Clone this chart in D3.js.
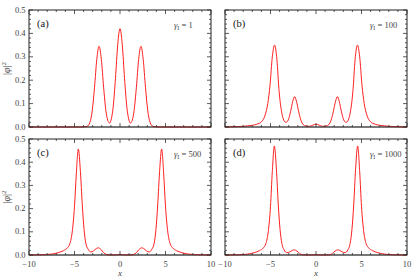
<!DOCTYPE html>
<html><head><meta charset="utf-8">
<script src="https://cdn.jsdelivr.net/npm/d3@7"></script>
<style>body{margin:0;background:#fff}svg{display:block}</style>
</head><body>
<svg id="c" width="415" height="277"></svg>
<script>
// ---- data ----
const xTicks = [-10, -5, 0, 5, 10];
const yTicks = [0, 0.1, 0.2, 0.3, 0.4, 0.5];
const panelLabels = ["(a)", "(b)", "(c)", "(d)"];
const gammaValues = ["1", "100", "500", "1000"];

const xA = [-10,-5,-4,-3.6,-3.3,-3.05,-2.8,-2.55,-2.3,-2.05,-1.8,-1.55,-1.35,-1.15,-0.95,-0.75,-0.5,-0.25,0,0.25,0.5,0.75,0.95,1.15,1.35,1.55,1.8,2.05,2.3,2.55,2.8,3.05,3.3,3.6,4,5,10];
const yA = [0,0,0.0003,0.003,0.02,0.07,0.17,0.289,0.345,0.289,0.17,0.07,0.029,0.017,0.035,0.086,0.207,0.352,0.42,0.352,0.207,0.086,0.035,0.017,0.029,0.07,0.17,0.289,0.345,0.289,0.17,0.07,0.02,0.003,0.0003,0,0];

const xB = [-10,-8.5,-7.5,-6.5,-6,-5.6,-5.3,-5.05,-4.8,-4.55,-4.3,-4.05,-3.8,-3.55,-3.3,-3.05,-2.8,-2.55,-2.35,-2.15,-1.9,-1.65,-1.4,-1.1,-0.7,-0.35,0,0.35,0.7,1.1,1.4,1.65,1.9,2.15,2.35,2.55,2.8,3.05,3.3,3.55,3.8,4.05,4.3,4.55,4.8,5.05,5.3,5.6,6,6.5,7.5,8.5,10];
const yB = [0,0.002,0.005,0.012,0.022,0.05,0.1,0.18,0.3,0.35,0.29,0.15,0.07,0.03,0.02,0.03,0.065,0.11,0.13,0.11,0.065,0.028,0.01,0.004,0.003,0.008,0.012,0.008,0.003,0.004,0.01,0.028,0.065,0.11,0.13,0.11,0.065,0.03,0.02,0.03,0.07,0.15,0.29,0.35,0.3,0.18,0.1,0.05,0.022,0.012,0.005,0.002,0];

const xC = [-10,-8.5,-7.5,-6.8,-6.2,-5.8,-5.5,-5.25,-5,-4.8,-4.58,-4.35,-4.15,-3.95,-3.75,-3.5,-3.2,-2.9,-2.6,-2.38,-2.1,-1.8,-1.5,-1,-0.5,0,0.5,1,1.5,1.8,2.1,2.38,2.6,2.9,3.2,3.5,3.75,3.95,4.15,4.35,4.58,4.8,5,5.25,5.5,5.8,6.2,6.8,7.5,8.5,10];
const yC = [0,0.001,0.004,0.01,0.019,0.03,0.05,0.1,0.21,0.35,0.457,0.36,0.22,0.11,0.05,0.025,0.013,0.018,0.028,0.031,0.024,0.01,0.002,0,0.0005,0.002,0.0005,0,0.002,0.01,0.024,0.031,0.028,0.018,0.013,0.025,0.05,0.11,0.22,0.36,0.457,0.35,0.21,0.1,0.05,0.03,0.019,0.01,0.004,0.001,0];

const xD = xC;
const yD = [0,0.001,0.004,0.01,0.019,0.03,0.05,0.1,0.21,0.36,0.47,0.37,0.22,0.11,0.05,0.022,0.01,0.013,0.02,0.022,0.017,0.007,0.001,0,0.0003,0.001,0.0003,0,0.001,0.007,0.017,0.022,0.02,0.013,0.01,0.022,0.05,0.11,0.22,0.37,0.47,0.36,0.21,0.1,0.05,0.03,0.019,0.01,0.004,0.001,0];

const seriesX = [xA, xB, xC, xD];
const seriesY = [yA, yB, yC, yD];

// ---- layout ----
const cols = [[29, 211], [225, 407]];
const rows = [[10, 127], [139, 255]];
const svg = d3.select("#c");
const lserif = "'Liberation Serif', 'DejaVu Serif', serif";
const frameColor = "#222";
const labelColor = "#444";

for (let i = 0; i < 4; i++) {
  const c = i % 2, r = Math.floor(i / 2);
  const [x0, x1] = cols[c], [y0, y1] = rows[r];
  const xs = d3.scaleLinear().domain([-10, 10]).range([x0, x1]);
  const ys = d3.scaleLinear().domain([0, 0.5]).range([y1, y0]);
  const g = svg.append("g");

  // zero line
  g.append("line").attr("x1", x0).attr("x2", x1).attr("y1", ys(0)).attr("y2", ys(0))
    .attr("stroke", "#999").attr("stroke-width", 1);

  // curve
  const pts = seriesX[i].map((x, k) => [x, seriesY[i][k]]);
  g.append("path").datum(pts)
    .attr("fill", "none").attr("stroke", "#ff2020").attr("stroke-width", 1)
    .attr("d", d3.line().x(d => xs(d[0])).y(d => ys(d[1])).curve(d3.curveMonotoneX));

  // ticks (inward, all sides)
  const xMinor = d3.range(-10, 10.01, 1);
  const yMinor = d3.range(0, 0.501, 0.02);
  const tk = g.append("g").attr("stroke", "#333").attr("stroke-width", 0.8);
  xMinor.forEach(v => {
    const major = Math.round(v) % 5 === 0;
    const L = major ? 4 : 2;
    tk.append("line").attr("x1", xs(v)).attr("x2", xs(v)).attr("y1", y1).attr("y2", y1 - L);
    tk.append("line").attr("x1", xs(v)).attr("x2", xs(v)).attr("y1", y0).attr("y2", y0 + L);
  });
  yMinor.forEach((v, k) => {
    const major = k % 5 === 0;
    const L = major ? 4 : 2;
    tk.append("line").attr("y1", ys(v)).attr("y2", ys(v)).attr("x1", x0).attr("x2", x0 + L);
    tk.append("line").attr("y1", ys(v)).attr("y2", ys(v)).attr("x1", x1).attr("x2", x1 - L);
  });

  // frame
  g.append("rect").attr("x", x0).attr("y", y0).attr("width", x1 - x0).attr("height", y1 - y0)
    .attr("fill", "none").attr("stroke", frameColor).attr("stroke-width", 1);

  // y tick labels
  if (c === 0) {
    yTicks.forEach(v => {
      g.append("text").attr("x", x0 - 3.5).attr("y", ys(v) + 2.5)
        .attr("text-anchor", "end").attr("font-family", lserif).attr("font-size", 8.5)
        .attr("fill", labelColor).text(v.toFixed(1));
    });
    g.append("text").attr("transform", `translate(10,${(y0 + y1) / 2}) rotate(-90)`)
      .attr("text-anchor", "middle").attr("font-family", lserif).attr("font-size", 10)
      .attr("fill", labelColor)
      .html('|<tspan font-style="italic">φ</tspan>|<tspan dy="-4" font-size="7">2</tspan>');
  }
  // x tick labels
  if (r === 1) {
    xTicks.forEach(v => {
      g.append("text").attr("x", xs(v)).attr("y", y1 + 11.5)
        .attr("text-anchor", "middle").attr("font-family", lserif).attr("font-size", 8.5)
        .attr("fill", labelColor).text(v < 0 ? "\u2212" + Math.abs(v) : String(v));
    });
    g.append("text").attr("x", (x0 + x1) / 2).attr("y", y1 + 21)
      .attr("text-anchor", "middle").attr("font-family", lserif).attr("font-size", 9)
      .attr("font-style", "italic").attr("fill", labelColor).text("x");
  }

  // panel label
  g.append("text").attr("x", x0 + 8).attr("y", y0 + 17)
    .attr("font-family", lserif).attr("font-size", 10.5).attr("fill", "#111")
    .text(panelLabels[i]);
  // gamma label
  g.append("text").attr("x", x0 + 145).attr("y", y0 + 17.5)
    .attr("font-family", lserif).attr("font-size", 8.5).attr("fill", labelColor)
    .html('<tspan font-style="italic">γ</tspan><tspan dy="2" font-size="6">I</tspan><tspan dy="-2"> = ' + gammaValues[i] + '</tspan>');
}
</script>
</body></html>
